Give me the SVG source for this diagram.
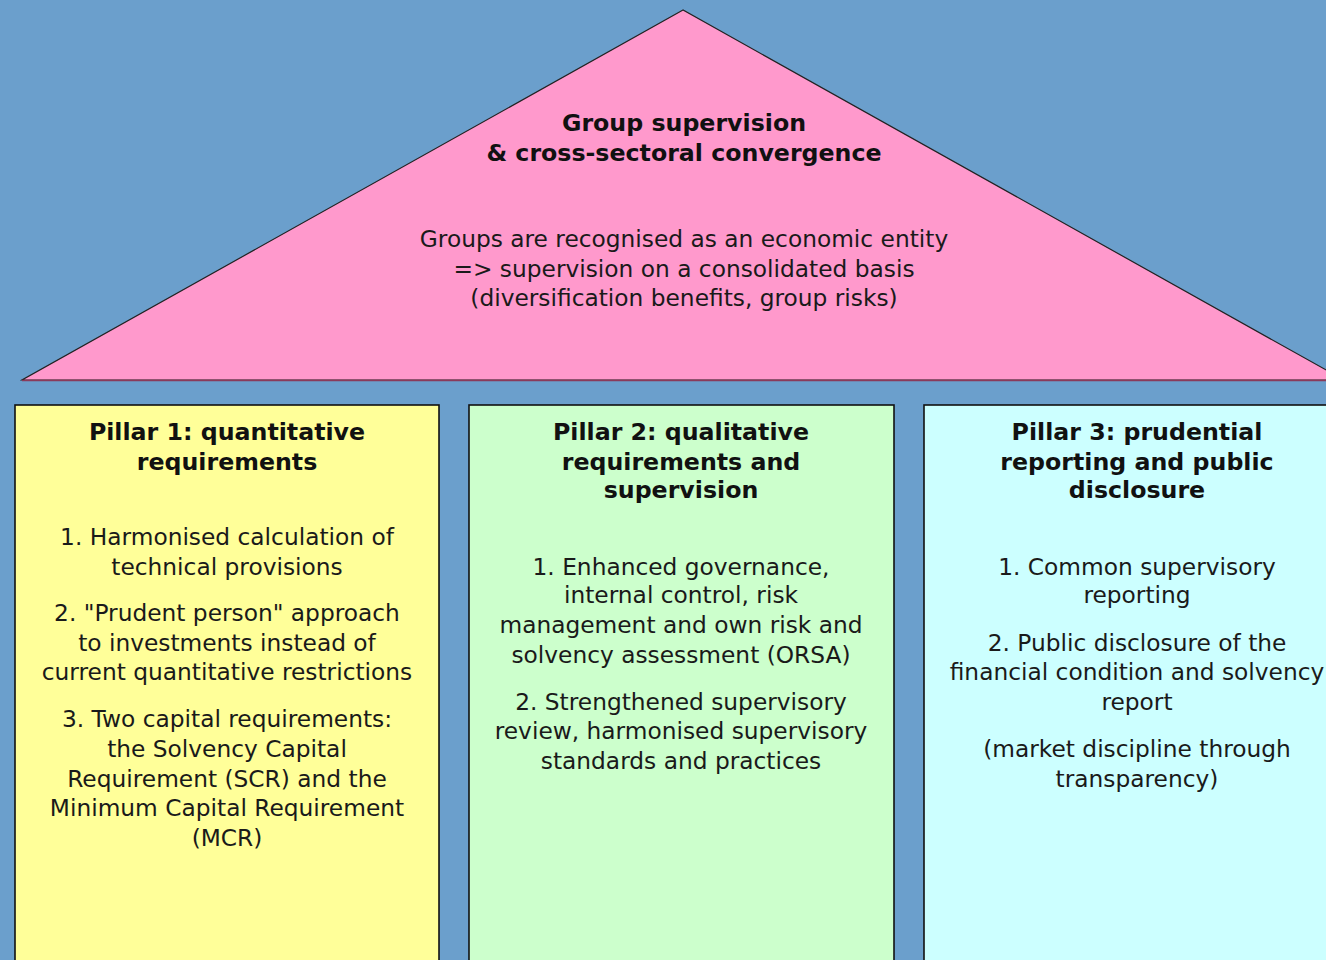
<svg xmlns="http://www.w3.org/2000/svg" width="1326" height="960" viewBox="0 0 1326 960">
<style>
.t{font-family:"DejaVu Sans",Verdana,sans-serif;text-anchor:middle;fill:#111}
.b{font-weight:bold;font-size:23.7px}
.r{font-size:23.3px;fill:#1a1a1a}
.box{stroke:#111;stroke-width:1.6}
</style>
<rect width="1326" height="960" fill="#6B9FCC"/>
<g id="roof">
<polygon points="683,10 22,380 1344,380" fill="#FF99CC" stroke="#222" stroke-width="1.2"/>
<line x1="22" y1="380.5" x2="1326" y2="380.5" stroke="#8a3a5a" stroke-width="1.5"/>
<text class="t b" x="684" y="131">Group supervision</text>
<text class="t b" x="684" y="161">&amp; cross-sectoral convergence</text>
<text class="t r" x="684" y="247">Groups are recognised as an economic entity</text>
<text class="t r" x="684" y="277">=&gt; supervision on a consolidated basis</text>
<text class="t r" x="684" y="306">(diversification benefits, group risks)</text>
</g>
<g id="pillar1">
<rect class="box" x="15" y="405" width="424" height="570" fill="#FFFF99"/>
<text class="t b" x="227" y="440">Pillar 1: quantitative</text>
<text class="t b" x="227" y="470">requirements</text>
<text class="t r" x="227" y="545">1. Harmonised calculation of</text>
<text class="t r" x="227" y="575">technical provisions</text>
<text class="t r" x="227" y="621">2. "Prudent person" approach</text>
<text class="t r" x="227" y="651">to investments instead of</text>
<text class="t r" x="227" y="680">current quantitative restrictions</text>
<text class="t r" x="227" y="727">3. Two capital requirements:</text>
<text class="t r" x="227" y="757">the Solvency Capital</text>
<text class="t r" x="227" y="787">Requirement (SCR) and the</text>
<text class="t r" x="227" y="816">Minimum Capital Requirement</text>
<text class="t r" x="227" y="846">(MCR)</text>
</g>
<g id="pillar2">
<rect class="box" x="469" y="405" width="425" height="570" fill="#CCFFCC"/>
<text class="t b" x="681" y="440">Pillar 2: qualitative</text>
<text class="t b" x="681" y="470">requirements and</text>
<text class="t b" x="681" y="498">supervision</text>
<text class="t r" x="681" y="575">1. Enhanced governance,</text>
<text class="t r" x="681" y="603">internal control, risk</text>
<text class="t r" x="681" y="633">management and own risk and</text>
<text class="t r" x="681" y="663">solvency assessment (ORSA)</text>
<text class="t r" x="681" y="710">2. Strengthened supervisory</text>
<text class="t r" x="681" y="739">review, harmonised supervisory</text>
<text class="t r" x="681" y="769">standards and practices</text>
</g>
<g id="pillar3">
<rect class="box" x="924" y="405" width="430" height="570" fill="#CCFFFF"/>
<text class="t b" x="1137" y="440">Pillar 3: prudential</text>
<text class="t b" x="1137" y="470">reporting and public</text>
<text class="t b" x="1137" y="498">disclosure</text>
<text class="t r" x="1137" y="575">1. Common supervisory</text>
<text class="t r" x="1137" y="603">reporting</text>
<text class="t r" x="1137" y="651">2. Public disclosure of the</text>
<text class="t r" x="1137" y="680">financial condition and solvency</text>
<text class="t r" x="1137" y="710">report</text>
<text class="t r" x="1137" y="757">(market discipline through</text>
<text class="t r" x="1137" y="787">transparency)</text>
</g>
<g id="connectors"></g>
</svg>
